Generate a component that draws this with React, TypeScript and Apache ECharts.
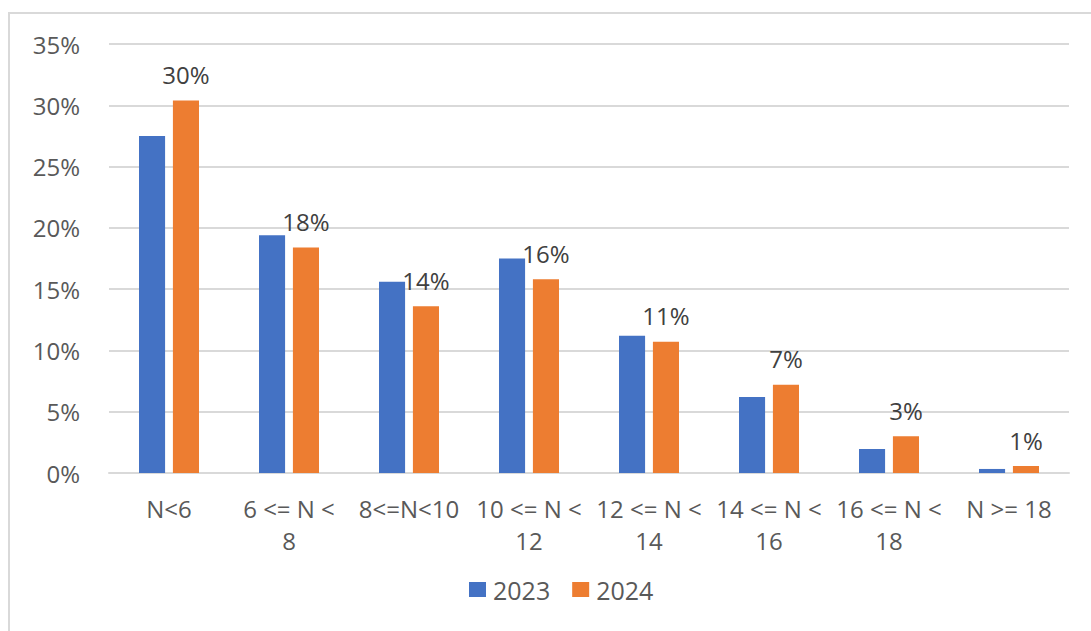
import React, { useEffect, useRef } from "react";
import * as echarts from "echarts";

const categories = ["N<6", "6 <= N < 8", "8<=N<10", "10 <= N < 12", "12 <= N < 14", "14 <= N < 16", "16 <= N < 18", "N >= 18"];
const values2023 = [27.5, 19.4, 15.6, 17.5, 11.2, 6.2, 1.96, 0.33];
const values2024 = [30.4, 18.4, 13.6, 15.8, 10.7, 7.2, 3.0, 0.57];
const seriesNames = ["2023", "2024"];
const yTicks = [0, 5, 10, 15, 20, 25, 30, 35];

const FONT = "'Open Sans', 'Noto Sans', sans-serif";

export default function App() {
  const ref = useRef<HTMLDivElement>(null);
  useEffect(() => {
    if (!ref.current) return;
    const chart = echarts.init(ref.current, undefined, { renderer: "svg" });
    chart.setOption({
      animation: false,
      backgroundColor: "#ffffff",
      textStyle: { fontFamily: FONT },
      graphic: [
        {
          type: "rect",
          shape: { x: 9, y: 13, width: 1090, height: 640 },
          style: { fill: "none", stroke: "#d9d9d9", lineWidth: 2 },
          silent: true,
        },
      ],
      grid: { left: 109, right: 22, top: 44, bottom: 158, containLabel: false },
      legend: {
        data: seriesNames,
        bottom: 24,
        left: 464,
        itemWidth: 17,
        itemHeight: 15,
        itemGap: 22,
        icon: "rect",
        textStyle: { fontSize: 25, color: "#595959", fontFamily: FONT, padding: [0, 0, 0, 2] },
      },
      xAxis: {
        type: "category",
        data: categories,
        axisLine: { show: true, lineStyle: { color: "#d9d9d9", width: 2 } },
        axisTick: { show: false },
        axisLabel: {
          interval: 0,
          margin: 19,
          fontSize: 24,
          lineHeight: 32,
          color: "#595959",
          fontFamily: FONT,
          formatter: (v: string) => {
            if (v.length > 8 && v.lastIndexOf(" ") > 0) {
              const i = v.lastIndexOf(" ");
              return v.slice(0, i) + "\n" + v.slice(i + 1);
            }
            return v;
          },
        },
      },
      yAxis: {
        type: "value",
        min: yTicks[0],
        max: yTicks[yTicks.length - 1],
        interval: 5,
        axisLine: { show: false },
        axisTick: { show: false },
        splitLine: { lineStyle: { color: "#d9d9d9", width: 2 } },
        axisLabel: {
          margin: 29,
          fontSize: 24,
          color: "#595959",
          fontFamily: FONT,
          formatter: (v: number) => `${v}%`,
        },
      },
      series: [
        {
          name: seriesNames[0],
          type: "bar",
          data: values2023,
          itemStyle: { color: "#4472C4" },
          barGap: "30%",
          barCategoryGap: "50%",
        },
        {
          name: seriesNames[1],
          type: "bar",
          data: values2024,
          itemStyle: { color: "#ED7D31" },
          barGap: "30%",
          barCategoryGap: "50%",
          label: {
            show: true,
            position: "top",
            distance: 14,
            fontSize: 24,
            color: "#404040",
            fontFamily: FONT,
            formatter: (p: any) => `${Math.round(p.value)}%`,
          },
        },
      ],
    });
    return () => chart.dispose();
  }, []);
  return (
    <div
      ref={ref}
      style={{ position: "fixed", left: 0, top: 0, width: 1091, height: 631 }}
    />
  );
}
